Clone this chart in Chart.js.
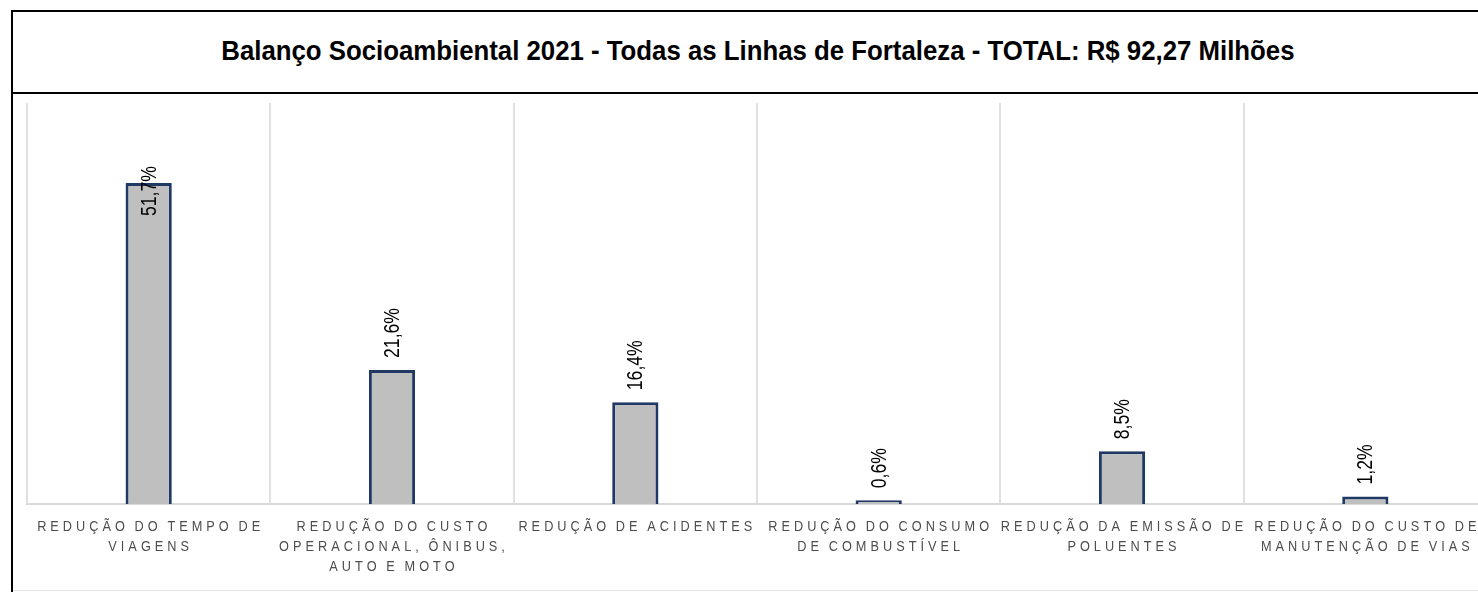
<!DOCTYPE html>
<html>
<head>
<meta charset="utf-8">
<script src="https://cdn.jsdelivr.net/npm/chart.js@4"></script>
<style>
  html, body { margin: 0; padding: 0; background: #fff; overflow: hidden; }
  #frame { position: absolute; left: 11px; top: 10px; width: 1500px; height: 582px; border-left: 2px solid #000; }
  #title { position: absolute; left: 0; top: 0; width: 100%; height: 84px; box-sizing: border-box;
           border-top: 2px solid #000; border-bottom: 2px solid #000; text-align: center; }
  #title span { display: inline-block; position: relative; left: -5px;
                font: bold 27px "Liberation Sans", Arial, sans-serif; color: #000;
                transform: scaleX(0.955); transform-origin: center; margin-top: 24px; white-space: nowrap; }
  #bottom { position: absolute; left: 0; top: 580px; width: 100%; height: 1px; background: #e6e6e6; }
  #chart { position: absolute; left: 13px; top: 95px; }
</style>
</head>
<body>
<div id="frame">
  <div id="title"><span>Balanço Socioambiental 2021 - Todas as Linhas de Fortaleza - TOTAL: R$ 92,27 Milhões</span></div>
  <div id="bottom"></div>
</div>
<canvas id="chart" width="1490" height="497"></canvas>
<script>
const categories = [
  ["REDUÇÃO DO TEMPO DE", "VIAGENS"],
  ["REDUÇÃO DO CUSTO", "OPERACIONAL, ÔNIBUS,", "AUTO E MOTO"],
  ["REDUÇÃO DE ACIDENTES"],
  ["REDUÇÃO DO CONSUMO", "DE COMBUSTÍVEL"],
  ["REDUÇÃO DA EMISSÃO DE", "POLUENTES"],
  ["REDUÇÃO DO CUSTO DE", "MANUTENÇÃO DE VIAS"]
];
const shares = [51.7, 21.6, 16.4, 0.6, 8.5, 1.2];

// draws text with letter spacing, squeezed horizontally, narrow word gaps
function drawSpaced(ctx, text, cx, y, spacing, sx) {
  let chars = [...text];
  let widths = chars.map(ch => ch === ' ' ? 2 : ctx.measureText(ch).width);
  let total = widths.reduce((a, b) => a + b, 0) * sx + spacing * (chars.length - 1);
  let x = cx - total / 2;
  chars.forEach((ch, i) => {
    if (ch !== ' ') {
      ctx.save();
      ctx.translate(x, y);
      ctx.scale(sx, 1);
      ctx.fillText(ch, 0, 0);
      ctx.restore();
    }
    x += widths[i] * sx + spacing;
  });
}

const valueLabels = {
  id: 'valueLabels',
  afterDatasetsDraw(chart) {
    const ctx = chart.ctx;
    const area = chart.chartArea;
    ctx.save();
    ctx.font = '22px "Liberation Sans", Arial, sans-serif';
    ctx.fillStyle = '#000';
    ctx.textAlign = 'left';
    ctx.textBaseline = 'middle';
    chart.getDatasetMeta(0).data.forEach((bar, i) => {
      let txt = shares[i].toFixed(1).replace('.', ',') + '%';
      let len = ctx.measureText(txt).width * 0.8;
      let bottom = bar.y - 12;
      if (bottom - len < area.top + 30) bottom = bar.y + 8 + len / 2;
      ctx.save();
      ctx.translate(bar.x + 1, bottom);
      ctx.rotate(-Math.PI / 2);
      ctx.scale(0.8, 1);
      ctx.fillText(txt, 0, 0);
      ctx.restore();
    });
    ctx.restore();
  }
};

const categoryLabels = {
  id: 'categoryLabels',
  afterDraw(chart) {
    const ctx = chart.ctx;
    const xs = chart.scales.x;
    ctx.save();
    ctx.font = '15px "Liberation Sans", Arial, sans-serif';
    ctx.fillStyle = '#4d4d4d';
    ctx.textAlign = 'left';
    ctx.textBaseline = 'middle';
    categories.forEach((lines, i) => {
      let cx = xs.getPixelForValue(i);
      lines.forEach((line, j) => {
        drawSpaced(ctx, line, cx, xs.top + 23 + j * 20, 4, 0.85);
      });
    });
    ctx.restore();
  }
};

new Chart(document.getElementById('chart'), {
  type: 'bar',
  data: {
    labels: categories,
    datasets: [{
      data: shares,
      backgroundColor: '#bfbfbf',
      borderColor: '#203864',
      borderWidth: 3,
      barPercentage: 0.19,
      categoryPercentage: 1
    }]
  },
  options: {
    responsive: false,
    animation: false,
    layout: { padding: { left: 14, right: 16, top: 8, bottom: 0 } },
    plugins: { legend: { display: false }, title: { display: false }, tooltip: { enabled: false } },
    scales: {
      x: {
        offset: true,
        grid: { display: true, color: '#e0e0e0', lineWidth: 2, drawTicks: false, offset: true },
        border: { display: true, color: '#d9d9d9', width: 2 },
        ticks: { display: false },
        afterFit(scale) { scale.height = 88; }
      },
      y: {
        display: false,
        min: 0,
        max: 64.6
      }
    }
  },
  plugins: [valueLabels, categoryLabels]
});
</script>
</body>
</html>
